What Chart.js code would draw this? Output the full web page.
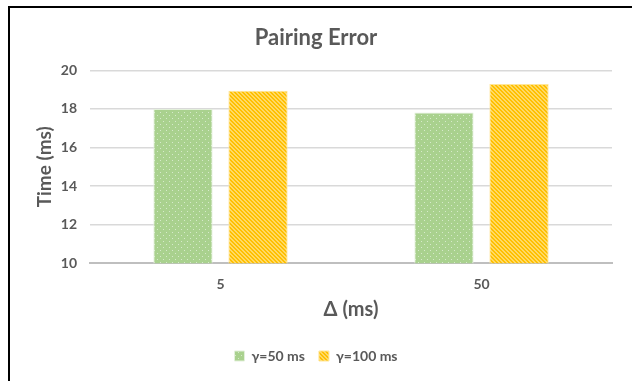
<!DOCTYPE html>
<html>
<head>
<meta charset="utf-8">
<script src="https://cdn.jsdelivr.net/npm/chart.js@4.4.1/dist/chart.umd.min.js"></script>
<style>
  html, body { margin: 0; padding: 0; background: #fff; }
  #wrap { width: 632px; height: 381px; position: relative; }
</style>
</head>
<body>
<div id="wrap"><canvas id="pairChart" width="632" height="381"></canvas></div>
<script>
const categories = ['5', '50']
const gamma50 = [18.0, 17.82]
const gamma100 = [18.95, 19.3]
const seriesNames = ['γ=50 ms', 'γ=100 ms']
const yTicks = [10, 12, 14, 16, 18, 20]

const grey = '#595959'
const fontName = 'Lato, "Open Sans", sans-serif'

// dotted green fill
function dotPattern() {
  const c = document.createElement('canvas')
  c.width = 6; c.height = 6
  const g = c.getContext('2d')
  g.fillStyle = '#a9d18e'
  g.fillRect(0, 0, 6, 6)
  g.fillStyle = '#d6eacb'
  g.fillRect(1, 1, 1, 1)
  g.fillRect(4, 4, 1, 1)
  return g.createPattern(c, 'repeat')
}

// diagonal yellow stripes
function stripePattern() {
  const c = document.createElement('canvas')
  c.width = 4; c.height = 4
  const g = c.getContext('2d')
  g.fillStyle = '#ffc000'
  g.fillRect(0, 0, 4, 4)
  g.fillStyle = '#ffd966'
  for (let y = 0; y < 4; y++) {
    for (let x = 0; x < 4; x++) {
      if (((x - y) % 4 + 4) % 4 < 2) g.fillRect(x, y, 1, 1)
    }
  }
  return g.createPattern(c, 'repeat')
}

const frame = {
  id: 'frame',
  beforeDraw(chart) {
    const ctx = chart.ctx
    ctx.save()
    ctx.fillStyle = '#fff'
    ctx.fillRect(0, 0, chart.width, chart.height)
    ctx.strokeStyle = '#000'
    ctx.lineWidth = 2
    ctx.beginPath()
    ctx.moveTo(9, chart.height)
    ctx.lineTo(9, 7)
    ctx.lineTo(chart.width, 7)
    ctx.stroke()
    ctx.restore()
  }
}

new Chart(document.getElementById('pairChart'), {
  type: 'bar',
  data: {
    labels: categories,
    datasets: [{
      label: seriesNames[0],
      data: gamma50,
      backgroundColor: dotPattern(),
      borderColor: '#e3f0db',
      borderWidth: 1
    }, {
      label: seriesNames[1],
      data: gamma100,
      backgroundColor: stripePattern(),
      borderColor: '#ffe699',
      borderWidth: 1
    }]
  },
  options: {
    responsive: false,
    animation: false,
    categoryPercentage: 0.575,
    barPercentage: 0.79,
    layout: { padding: { left: 20, right: 20, top: 25, bottom: 8 } },
    plugins: {
      title: {
        display: true,
        text: 'Pairing Error',
        color: grey,
        font: { family: fontName, size: 22, weight: 'bold' },
        padding: { top: 0, bottom: 19 }
      },
      legend: {
        position: 'bottom',
        labels: {
          color: grey,
          font: { family: fontName, size: 14, weight: 'bold' },
          boxWidth: 10,
          boxHeight: 10,
          padding: 14
        }
      },
      tooltip: { enabled: false }
    },
    scales: {
      x: {
        grid: { display: false },
        border: { color: '#bfbfbf', width: 2 },
        ticks: { color: grey, font: { family: fontName, size: 14, weight: 'bold' }, padding: 5 },
        title: {
          display: true,
          text: 'Δ (ms)',
          color: grey,
          font: { family: fontName, size: 20, weight: 'bold' },
          padding: { top: 0, bottom: 13 }
        }
      },
      y: {
        min: 10,
        max: 20,
        afterBuildTicks(scale) { scale.ticks = yTicks.map(v => ({ value: v })) },
        afterFit(scale) { scale.width = 70 },
        grid: { color: '#d9d9d9', lineWidth: 1.5, drawTicks: false },
        border: { display: false },
        ticks: { color: grey, font: { family: fontName, size: 14, weight: 'bold' }, padding: 13 },
        title: {
          display: true,
          text: 'Time (ms)',
          color: grey,
          font: { family: fontName, size: 19, weight: 'bold' },
          padding: { top: 13, bottom: 0 }
        }
      }
    }
  },
  plugins: [frame]
})
</script>
</body>
</html>
